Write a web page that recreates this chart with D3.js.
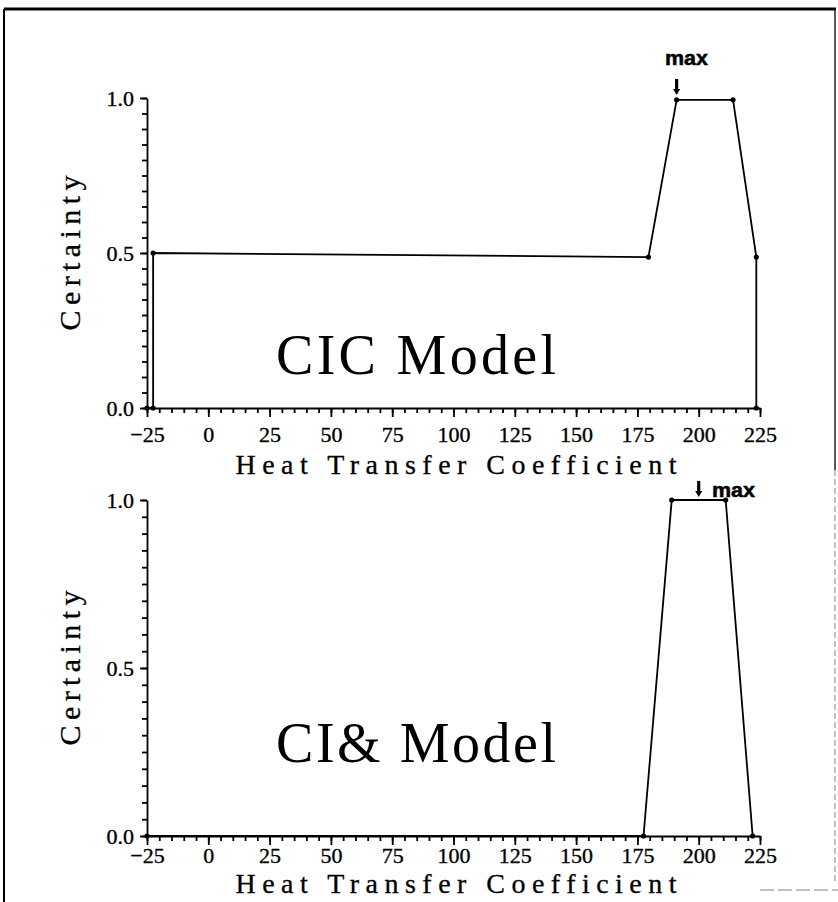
<!DOCTYPE html>
<html>
<head>
<meta charset="utf-8">
<script src="https://cdn.jsdelivr.net/npm/d3@7"></script>
<style>
  body { margin: 0; background: #fff; }
  svg { display: block; }
  .axis path, .axis line { stroke: #000; stroke-width: 1.8; }
  .axis text { font-family: "Liberation Serif", "DejaVu Serif", serif; font-size: 22px; fill: #000; stroke: #000; stroke-width: 0.35; }
  .title { font-family: "Liberation Serif", "DejaVu Serif", serif; fill: #000; stroke: #000; stroke-width: 0.3; }
  .note { font-family: "Liberation Sans Narrow", "Liberation Sans", Arial, sans-serif; font-weight: bold; font-size: 20px; fill: #000; stroke: #000; stroke-width: 0.5; }
</style>
</head>
<body>
<script>
// Data.
var xTicks = [-25, 0, 25, 50, 75, 100, 125, 150, 175, 200, 225];
var yTicks = [0, 0.5, 1.0];

var cicX = [-25, -22.5, -22.5, 179.5, 191, 214, 223.5, 223.5];
var cicY = [0, 0, 0.5, 0.487, 0.994, 0.994, 0.487, 0];
var cicMax = 191;

var ciaX = [-25, 177.5, 189, 211, 222];
var ciaY = [0, 0, 1.0, 1.0, 0];
var ciaMax = 200;

var width = 838, height = 902;

var svg = d3.select('body').append('svg')
    .attr('width', width)
    .attr('height', height);

// Scanned page frame.
svg.append('line').attr('x1', 4).attr('y1', 9).attr('x2', 836).attr('y2', 9)
    .attr('stroke', '#000').attr('stroke-width', 3);
svg.append('line').attr('x1', 4).attr('y1', 9).attr('x2', 4).attr('y2', 902)
    .attr('stroke', '#000').attr('stroke-width', 2);
svg.append('line').attr('x1', 835).attr('y1', 9).attr('x2', 835).attr('y2', 470)
    .attr('stroke', '#222').attr('stroke-width', 1.5);
svg.append('line').attr('x1', 835).attr('y1', 470).attr('x2', 835).attr('y2', 882)
    .attr('stroke', '#999').attr('stroke-width', 1.2).attr('stroke-dasharray', '6,3');
svg.append('line').attr('x1', 760).attr('y1', 890).attr('x2', 838).attr('y2', 890)
    .attr('stroke', '#aaa').attr('stroke-width', 1.5).attr('stroke-dasharray', '14,4');

var x = d3.scaleLinear().domain([-25, 225]).range([147, 760]);

function translation(a, b) {
  return 'translate(' + a + ',' + b + ')';
}

function panel(opts) {
  var y = d3.scaleLinear().domain([0, 1]).range([opts.y0, opts.y1]);
  var g = svg.append('g');

  // x axis: minor ticks every 5, labelled ticks every 25
  g.append('g').attr('class', 'axis')
      .attr('transform', translation(0, opts.y0))
      .call(d3.axisBottom(x).tickValues(d3.range(-25, 226, 5))
            .tickSize(5).tickSizeOuter(0).tickFormat(''));
  g.append('g').attr('class', 'axis')
      .attr('transform', translation(0, opts.y0))
      .call(d3.axisBottom(x).tickValues(xTicks)
            .tickSize(9).tickSizeOuter(0).tickPadding(opts.pad).tickFormat(d3.format('d')))
      .call(function(s) { s.select('.domain').remove(); });

  // y axis: minor ticks every 0.05
  g.append('g').attr('class', 'axis')
      .attr('transform', translation(x(-25), 0))
      .call(d3.axisLeft(y).tickValues(d3.range(0, 1.001, 0.05))
            .tickSize(5).tickSizeOuter(0).tickFormat(''));
  g.append('g').attr('class', 'axis')
      .attr('transform', translation(x(-25), 0))
      .call(d3.axisLeft(y).tickValues(yTicks)
            .tickSize(7).tickSizeOuter(0).tickPadding(6).tickFormat(d3.format('.1f')))
      .call(function(s) { s.select('.domain').remove(); });

  // axis titles
  g.append('text').attr('class', 'title')
      .attr('x', 456).attr('y', opts.y0 + opts.titleDy)
      .attr('text-anchor', 'middle')
      .attr('font-size', 28)
      .attr('textLength', 441).attr('lengthAdjust', 'spacing')
      .text('Heat Transfer Coefficient');
  g.append('text').attr('class', 'title')
      .attr('transform', translation(80, y(0.5)) + ' rotate(-90)')
      .attr('text-anchor', 'middle')
      .attr('font-size', 30)
      .attr('textLength', 155).attr('lengthAdjust', 'spacing')
      .text('Certainty');

  // model name
  g.append('text').attr('class', 'title')
      .attr('x', 416).attr('y', y(opts.nameY))
      .attr('text-anchor', 'middle')
      .attr('font-size', 56)
      .style('stroke-width', 0)
      .attr('textLength', 280).attr('lengthAdjust', 'spacing')
      .text(opts.name);

  var pts = opts.xs.map(function(d, i) { return [x(d), y(opts.ys[i])]; });

  g.append('path')
      .attr('d', d3.line()(pts))
      .attr('fill', 'none')
      .attr('stroke', '#000')
      .attr('stroke-width', 1.8);

  g.selectAll('circle.pt').data(pts).enter()
      .append('circle').attr('class', 'pt')
      .attr('cx', function(d) { return d[0]; })
      .attr('cy', function(d) { return d[1]; })
      .attr('r', 2.6)
      .attr('fill', '#000');

  // "max" marker
  var ax = x(opts.maxX), tip = y(1) - 3;
  g.append('line')
      .attr('x1', ax).attr('x2', ax)
      .attr('y1', tip - 16).attr('y2', tip - 5)
      .attr('stroke', '#000').attr('stroke-width', 3.2);
  g.append('path')
      .attr('d', 'M' + (ax - 3.5) + ',' + (tip - 6) + 'L' + (ax + 3.5) + ',' + (tip - 6) + 'L' + ax + ',' + tip + 'Z')
      .attr('fill', '#000');
  g.append('text').attr('class', 'note')
      .attr('x', opts.noteX).attr('y', opts.noteY)
      .attr('textLength', 43).attr('lengthAdjust', 'spacingAndGlyphs')
      .text('max');
}

panel({
  y0: 408, y1: 98, pad: 9, titleDy: 66,
  xs: cicX, ys: cicY, maxX: cicMax,
  name: 'CIC  Model', nameY: 0.11,
  noteX: 665, noteY: 65
});

panel({
  y0: 836, y1: 500, pad: 2, titleDy: 57,
  xs: ciaX, ys: ciaY, maxX: ciaMax,
  name: 'CI& Model', nameY: 0.22,
  noteX: 712, noteY: 497
});
</script>
</body>
</html>
